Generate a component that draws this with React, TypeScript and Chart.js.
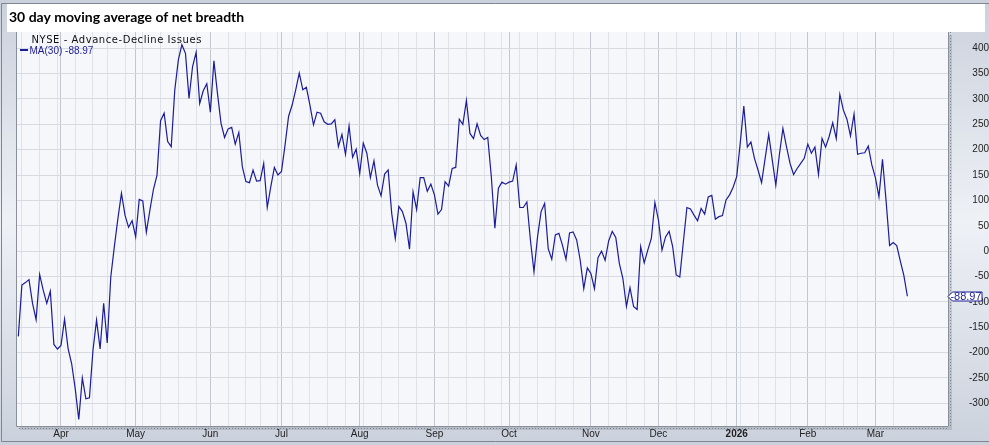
import React, { useEffect, useRef } from 'react';
import { Chart, registerables } from 'chart.js';

Chart.register(...registerables);

// ---- Text ----
const TITLE = '30 day moving average of net breadth';
const SERIES_TITLE = 'NYSE - Advance-Decline Issues';
const SERIES_NAME = 'MA(30)';

// ---- Calendar (trading days) ----
const START_DATE = '2025-03-14';
const HOLIDAYS = [
  '2025-04-18', '2025-05-26', '2025-06-19', '2025-07-04', '2025-09-01',
  '2025-11-27', '2025-12-25', '2026-01-01', '2026-01-19', '2026-02-16',
];
const MONTH_LABELS = ['Jan', 'Feb', 'Mar', 'Apr', 'May', 'Jun', 'Jul', 'Aug', 'Sep', 'Oct', 'Nov', 'Dec'];

// ---- 30-day MA of net breadth, by month (trading days) ----
const MA_2025_03 = [-168, -67, -62, -56, -103, -135, -46, -77, -103, -79, -184, -193];
const MA_2025_04 = [-186, -134, -192, -222, -271, -332, -250, -291, -289, -195, -136, -193, -103, -181, -51, 9, 64, 114, 71, 47, 60];
const MA_2025_05 = [28, 102, 99, 37, 81, 122, 150, 257, 272, 216, 206, 318, 377, 407, 390, 301, 364, 392, 291, 316, 330];
const MA_2025_06 = [274, 375, 311, 252, 224, 241, 244, 211, 234, 166, 137, 135, 160, 138, 139, 173, 86, 127, 165, 150];
const MA_2025_07 = [157, 209, 266, 288, 318, 351, 318, 323, 288, 249, 274, 272, 255, 250, 251, 259, 206, 230, 191, 247, 185, 201];
const MA_2025_08 = [153, 213, 193, 145, 178, 130, 109, 152, 160, 74, 25, 88, 78, 55, 4, 117, 82, 145, 145, 118, 132];
const MA_2025_09 = [111, 73, 82, 137, 128, 163, 165, 260, 250, 297, 232, 222, 251, 228, 220, 224, 147, 45, 124, 136, 132];
const MA_2025_10 = [136, 138, 170, 86, 86, 97, 22, -41, 28, 78, 94, 5, -16, 32, 35, 12, -16, 36, 38, 22, -18, -74, -33];
const MA_2025_11 = [-44, -74, -13, 0, -18, 20, 39, 27, -24, -54, -109, -72, -109, -115, 9, -23, 2, 25, 96];
const MA_2025_12 = [61, 2, 28, 39, 9, -47, -51, 18, 86, 83, 71, 60, 84, 73, 107, 110, 63, 68, 70, 101, 111, 126];
const MA_2026_01 = [147, 213, 286, 205, 215, 183, 160, 135, 183, 230, 180, 130, 190, 242, 206, 173, 151, 163, 173, 183];
const MA_2026_02 = [211, 193, 205, 151, 222, 205, 226, 253, 222, 309, 278, 260, 227, 270, 191, 193, 194, 207, 170];
const MA_2026_03 = [145, 107, 181, 100, 11, 17, 11, -19, -48, -88.97];

const MA30 = [
  ...MA_2025_03, ...MA_2025_04, ...MA_2025_05, ...MA_2025_06, ...MA_2025_07, ...MA_2025_08,
  ...MA_2025_09, ...MA_2025_10, ...MA_2025_11, ...MA_2025_12, ...MA_2026_01, ...MA_2026_02, ...MA_2026_03,
];

// ---- Axis settings ----
const Y_MIN = -346.7;
const Y_MAX = 432;
const Y_STEP = 50;
const X_MIN = -0.37;
const X_MAX = 261.7;

function tradingDays(start: string, n: number, holidays: string[]): Date[] {
  const out: Date[] = [];
  const d = new Date(start + 'T00:00:00Z');
  while (out.length < n) {
    const dow = d.getUTCDay();
    const iso = d.toISOString().slice(0, 10);
    if (dow !== 0 && dow !== 6 && !holidays.includes(iso)) out.push(new Date(d.getTime()));
    d.setUTCDate(d.getUTCDate() + 1);
  }
  return out;
}

const LINE_COLOR = '#1c1c98';

export default function App() {
  const ref = useRef<HTMLCanvasElement | null>(null);

  useEffect(() => {
    const canvas = ref.current;
    if (!canvas) return;

    const dates = tradingDays(START_DATE, MA30.length, HOLIDAYS);
    const monthStarts = new Map<number, string>();
    const weekStarts = new Set<number>();
    for (let i = 1; i < dates.length; i++) {
      const a = dates[i - 1];
      const b = dates[i];
      if (a.getUTCMonth() !== b.getUTCMonth()) {
        monthStarts.set(i, b.getUTCMonth() === 0 ? String(b.getUTCFullYear()) : MONTH_LABELS[b.getUTCMonth()]);
      }
      if (b.getUTCDay() < a.getUTCDay()) weekStarts.add(i);
    }
    const tickValues = Array.from(new Set([...weekStarts, ...monthStarts.keys()])).sort((p, q) => p - q);

    const points = MA30.map((v, i) => ({ x: i, y: v }));

    const framePlugin = {
      id: 'frame',
      beforeDraw(chart: any) {
        const { ctx, width, height, chartArea: a } = chart;
        ctx.save();
        const g = ctx.createLinearGradient(0, 0, 0, height);
        g.addColorStop(0, '#cbd1dc');
        g.addColorStop(0.5, '#eef1f6');
        g.addColorStop(1, '#cbd1dc');
        ctx.fillStyle = g;
        ctx.fillRect(0, 0, width, height);
        // outer frame
        ctx.strokeStyle = '#80868f';
        ctx.lineWidth = 1;
        ctx.beginPath();
        ctx.moveTo(width, 3.5);
        ctx.lineTo(1.5, 3.5);
        ctx.lineTo(1.5, height - 3.5);
        ctx.lineTo(width, height - 3.5);
        ctx.stroke();
        // shadow
        ctx.fillStyle = 'rgba(95,105,120,0.22)';
        ctx.fillRect(a.left + 3, a.top + 3, a.right - a.left, a.bottom - a.top);
        // plot background
        ctx.fillStyle = '#f5f7fb';
        ctx.fillRect(a.left, a.top, a.right - a.left, a.bottom - a.top);
        // title box
        ctx.fillStyle = '#ffffff';
        ctx.fillRect(7, 4, 978, 28);
        ctx.restore();
      },
      afterDraw(chart: any) {
        const { ctx, chartArea: a } = chart;
        const yScale = chart.scales.y;
        ctx.save();
        // plot frame
        ctx.strokeStyle = '#8a9099';
        ctx.lineWidth = 1;
        ctx.beginPath();
        ctx.moveTo(a.left - 0.5, a.top);
        ctx.lineTo(a.left - 0.5, a.bottom - 0.5);
        ctx.lineTo(a.right - 0.5, a.bottom - 0.5);
        ctx.lineTo(a.right - 0.5, a.top);
        ctx.stroke();
        // dotted tick rails
        ctx.setLineDash([1, 2]);
        ctx.strokeStyle = '#7f858e';
        ctx.beginPath();
        ctx.moveTo(a.left + 2, a.bottom + 1.5);
        ctx.lineTo(a.right, a.bottom + 1.5);
        ctx.moveTo(a.right + 1.5, a.top);
        ctx.lineTo(a.right + 1.5, a.bottom);
        ctx.stroke();
        ctx.setLineDash([]);

        // title
        ctx.fillStyle = '#000000';
        ctx.font = 'bold 14px Lato';
        ctx.textAlign = 'left';
        ctx.textBaseline = 'alphabetic';
        ctx.fillText(TITLE, 9, 21.5);

        // legend
        ctx.font = '10px "DejaVu Sans"';
        try { (ctx as any).letterSpacing = '0.55px'; } catch (e) { /* ignore */ }
        ctx.fillStyle = '#111111';
        ctx.fillText(SERIES_TITLE, 31.5, 43);
        try { (ctx as any).letterSpacing = '0px'; } catch (e) { /* ignore */ }
        ctx.fillStyle = LINE_COLOR;
        ctx.fillRect(20, 49, 8, 2);
        ctx.font = '10px "Liberation Sans"';
        const last = MA30[MA30.length - 1];
        ctx.fillText(`${SERIES_NAME} ${last.toFixed(2)}`, 29.5, 54);

        // last value badge
        const yc = Math.round(yScale.getPixelForValue(last)) + 0.5;
        const x0 = a.right - 1;
        ctx.beginPath();
        ctx.moveTo(x0, yc);
        ctx.lineTo(x0 + 4.5, yc - 4.5);
        ctx.lineTo(x0 + 34, yc - 4.5);
        ctx.lineTo(x0 + 34, yc + 4.5);
        ctx.lineTo(x0 + 4.5, yc + 4.5);
        ctx.closePath();
        ctx.fillStyle = '#ffffff';
        ctx.fill();
        ctx.strokeStyle = LINE_COLOR;
        ctx.stroke();
        ctx.fillStyle = LINE_COLOR;
        ctx.font = '11px "Liberation Sans"';
        ctx.textAlign = 'center';
        ctx.textBaseline = 'middle';
        ctx.fillText(last.toFixed(2), x0 + 18, yc + 0.5);
        ctx.restore();
      },
    };

    const chart = new Chart(canvas, {
      type: 'line',
      data: {
        datasets: [
          {
            label: SERIES_NAME,
            data: points,
            borderColor: LINE_COLOR,
            borderWidth: 1.2,
            pointRadius: 0,
            tension: 0,
            fill: false,
          },
        ],
      },
      options: {
        animation: false,
        responsive: false,
        devicePixelRatio: 1,
        parsing: false as any,
        layout: { padding: { left: 17, top: 32, right: 0, bottom: 0 } },
        plugins: {
          legend: { display: false },
          title: { display: false },
          tooltip: { enabled: false },
        },
        scales: {
          x: {
            type: 'linear',
            min: X_MIN,
            max: X_MAX,
            afterBuildTicks: (axis: any) => {
              axis.ticks = tickValues.map((v) => ({ value: v }));
            },
            afterFit: (axis: any) => {
              axis.height = 18;
            },
            border: { display: false },
            grid: {
              drawTicks: false,
              lineWidth: 1,
              color: (ctx: any) => (ctx.tick && monthStarts.has(ctx.tick.value) ? '#c2c6ce' : '#dfe2e8'),
            },
            ticks: {
              autoSkip: false,
              maxRotation: 0,
              padding: 1,
              color: '#222222',
              font: (ctx: any) => ({
                family: 'Liberation Sans',
                size: 10,
                weight: ctx.tick && monthStarts.get(ctx.tick.value) && /^\d+$/.test(monthStarts.get(ctx.tick.value) as string) ? 'bold' : 'normal',
              }),
              callback: (value: any) => monthStarts.get(value as number) ?? '',
            },
          },
          y: {
            type: 'linear',
            position: 'right',
            min: Y_MIN,
            max: Y_MAX,
            afterFit: (axis: any) => {
              axis.width = 40;
            },
            border: { display: false },
            grid: { drawTicks: false, color: '#d7dae1', lineWidth: 1 },
            ticks: {
              stepSize: Y_STEP,
              includeBounds: false,
              crossAlign: 'far',
              padding: 3,
              color: '#222222',
              font: { family: 'Liberation Sans', size: 10 },
            },
          },
        },
      },
      plugins: [framePlugin],
    } as any);

    return () => chart.destroy();
  }, []);

  return (
    <div style={{ position: 'absolute', left: 0, top: 0, width: 989, height: 445 }}>
      <canvas ref={ref} width={989} height={445} style={{ display: 'block' }} />
    </div>
  );
}
